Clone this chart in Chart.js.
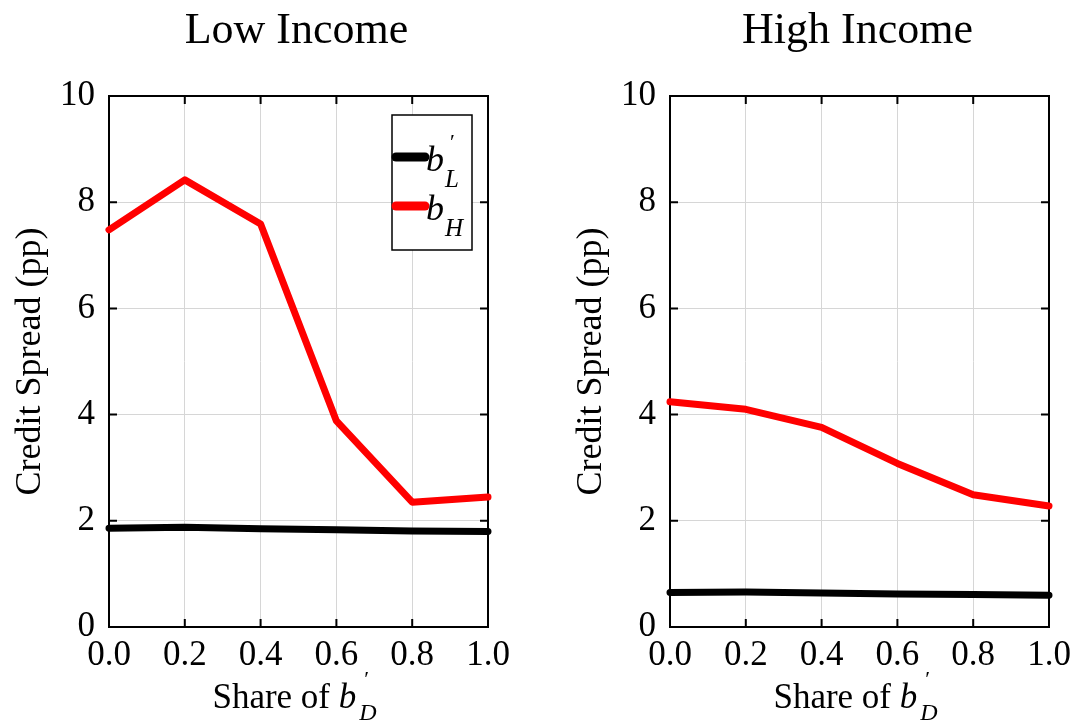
<!DOCTYPE html>
<html>
<head>
<meta charset="utf-8">
<script src="https://cdn.jsdelivr.net/npm/chart.js@4.4.0/dist/chart.umd.min.js"></script>
<style>
  body{margin:0;background:#fff;}
  #wrap{position:relative;width:1073px;height:723px;overflow:hidden;}
  .panel{position:absolute;top:0;}
</style>
</head>
<body>
<div id="wrap">
  <canvas id="low" class="panel" style="left:0" width="536" height="723"></canvas>
  <canvas id="high" class="panel" style="left:536px" width="537" height="723"></canvas>
</div>
<script>
// values
const shares = [0, 0.2, 0.4, 0.6, 0.8, 1.0];
const xTicks = [0, 0.2, 0.4, 0.6, 0.8, 1.0];
const yTicks = [0, 2, 4, 6, 8, 10];
const lowBL  = [1.86, 1.88, 1.85, 1.83, 1.81, 1.80];
const lowBH  = [7.48, 8.42, 7.59, 3.88, 2.35, 2.45];
const highBL = [0.65, 0.66, 0.64, 0.62, 0.61, 0.60];
const highBH = [4.24, 4.10, 3.76, 3.08, 2.49, 2.28];

const SERIF = '"Liberation Serif", "Times New Roman", serif';

function pts(ys){ return shares.map((x,i)=>({x:x, y:ys[i]})); }

// frame + inward ticks on all four sides
const framePlugin = {
  id:'frame',
  beforeDatasetsDraw(chart){
    const {ctx, chartArea:a, scales:{x, y}} = chart;
    ctx.save();
    ctx.strokeStyle = '#000';
    ctx.lineWidth = 2;
    ctx.strokeRect(a.left, a.top, a.right-a.left, a.bottom-a.top);
    ctx.beginPath();
    for(const v of xTicks){
      const px = x.getPixelForValue(v);
      ctx.moveTo(px, a.bottom); ctx.lineTo(px, a.bottom-8);
      ctx.moveTo(px, a.top); ctx.lineTo(px, a.top+8);
    }
    for(const v of yTicks){
      const py = y.getPixelForValue(v);
      ctx.moveTo(a.left, py); ctx.lineTo(a.left+8, py);
      ctx.moveTo(a.right, py); ctx.lineTo(a.right-8, py);
    }
    ctx.stroke();
    ctx.restore();
  }
};

// title, axis titles (with sub/superscripts), optional legend
const textPlugin = {
  id:'texts',
  afterDraw(chart, args, opts){
    const {ctx, chartArea:a} = chart;
    const cx = (a.left + a.right)/2;
    ctx.save();
    ctx.fillStyle = '#000';
    // title
    ctx.font = '44px ' + SERIF;
    ctx.textAlign = 'center';
    ctx.textBaseline = 'alphabetic';
    ctx.fillText(opts.title, cx - 2, 43);

    // y title
    ctx.save();
    ctx.translate(a.left - 69, (a.top + a.bottom)/2);
    ctx.rotate(-Math.PI/2);
    ctx.font = '36px ' + SERIF;
    ctx.fillText('Credit Spread (pp)', 0, 0);
    ctx.restore();

    // x title: Share of b'_D
    ctx.textAlign = 'left';
    const main = 'Share of ';
    ctx.font = '35px ' + SERIF;
    const w1 = ctx.measureText(main).width;
    ctx.font = 'italic 35px ' + SERIF;
    const w2 = ctx.measureText('b').width;
    ctx.font = 'italic 24px ' + SERIF;
    const w3 = ctx.measureText('D').width;
    const total = w1 + w2 + 3 + w3;
    let sx = cx - total/2 - 4;
    const base = 708;
    ctx.font = '35px ' + SERIF;
    ctx.fillText(main, sx, base);
    sx += w1;
    ctx.font = 'italic 35px ' + SERIF;
    ctx.fillText('b', sx, base);
    sx += w2;
    ctx.font = '22px ' + SERIF;
    ctx.fillText('\u2032', sx + 8, base - 22);
    ctx.font = 'italic 24px ' + SERIF;
    ctx.fillText('D', sx + 3, base + 12);

    // legend
    if(opts.legend){
      const lx = 392, ly = 115, lw = 80, lh = 135;
      ctx.fillStyle = '#fff';
      ctx.fillRect(lx, ly, lw, lh);
      ctx.strokeStyle = '#000';
      ctx.lineWidth = 1.5;
      ctx.strokeRect(lx, ly, lw, lh);
      const items = chart.data.datasets;
      const rows = [{y:157, sub:'L', prime:true}, {y:206, sub:'H', prime:false}];
      items.forEach((ds, i)=>{
        const r = rows[i];
        ctx.strokeStyle = ds.borderColor;
        ctx.lineWidth = 9;
        ctx.lineCap = 'round';
        ctx.beginPath();
        ctx.moveTo(lx + 4, r.y); ctx.lineTo(lx + 33, r.y);
        ctx.stroke();
        ctx.fillStyle = '#000';
        ctx.font = 'italic 36px ' + SERIF;
        ctx.fillText('b', lx + 34, r.y + 14);
        const bw = ctx.measureText('b').width;
        if(r.prime){
          ctx.font = '22px ' + SERIF;
          ctx.fillText('\u2032', lx + 34 + bw + 6, r.y - 8);
        }
        ctx.font = 'italic 25px ' + SERIF;
        ctx.fillText(r.sub, lx + 34 + bw + 1, r.y + 30);
      });
    }
    ctx.restore();
  }
};

function makeChart(id, bl, bh, title, yAxisWidth, padRight, legend){
  return new Chart(document.getElementById(id), {
    type:'line',
    data:{
      datasets:[
        {label:"b'_L", data:pts(bl), borderColor:'#000', borderWidth:7, pointRadius:0, borderCapStyle:'round', borderJoinStyle:'round', tension:0, clip:false},
        {label:'b_H', data:pts(bh), borderColor:'#ff0000', borderWidth:7, pointRadius:0, borderCapStyle:'round', borderJoinStyle:'round', tension:0, clip:false}
      ]
    },
    options:{
      responsive:false,
      animation:false,
      layout:{padding:{top:96, right:padRight, left:0, bottom:0}},
      plugins:{
        legend:{display:false},
        tooltip:{enabled:false},
        texts:{title:title, legend:legend}
      },
      scales:{
        x:{
          type:'linear', min:0, max:1,
          afterBuildTicks(s){ s.ticks = xTicks.map(v=>({value:v})); },
          afterFit(s){ s.height = 96; s.paddingLeft = 0; s.paddingRight = 0; },
          grid:{color:'#d6d6d6', lineWidth:1, drawTicks:false},
          border:{display:false},
          ticks:{padding:8, color:'#000', font:{family:SERIF, size:35}, callback:v=>v.toFixed(1), maxRotation:0}
        },
        y:{
          type:'linear', min:0, max:10,
          afterBuildTicks(s){ s.ticks = yTicks.map(v=>({value:v})); },
          afterFit(s){ s.width = yAxisWidth; s.paddingTop = 0; s.paddingBottom = 0; },
          grid:{color:'#d6d6d6', lineWidth:1, drawTicks:false},
          border:{display:false},
          ticks:{padding:14, color:'#000', font:{family:SERIF, size:35}, callback:v=>String(v)}
        }
      }
    },
    plugins:[framePlugin, textPlugin]
  });
}

makeChart('low', lowBL, lowBH, 'Low Income', 109, 48, true);
makeChart('high', highBL, highBH, 'High Income', 134, 24, false);
</script>
</body>
</html>
